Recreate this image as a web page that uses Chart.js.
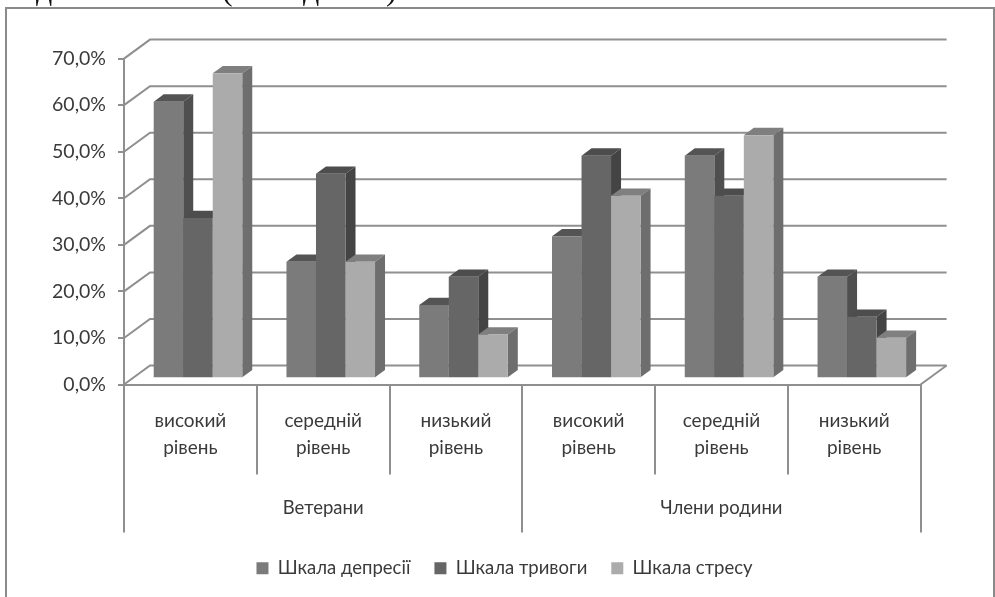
<!DOCTYPE html>
<html>
<head>
<meta charset="utf-8">
<title>Шкали депресії, тривоги та стресу</title>
<script src="https://cdn.jsdelivr.net/npm/chart.js@4"></script>
<style>
  html, body { margin: 0; padding: 0; background: #fff; overflow: hidden; }
  #wrap { position: relative; width: 995px; height: 597px; overflow: hidden; filter: blur(0.45px); }
  #frame { position: absolute; left: 5px; top: 7px; width: 990px; height: 600px; border: 2px solid #8a8a8a; box-sizing: border-box; }
  canvas { position: absolute; left: 0; top: 0; }
  .cut { position: absolute; top: -27px; font: 32px/32px "Liberation Serif", serif; color: #111; }
</style>
</head>
<body>
<div id="wrap">
  <span class="cut" style="left:36px">д</span>
  <span class="cut" style="left:222px">(</span>
  <span class="cut" style="left:303px">д</span>
  <span class="cut" style="left:386px">)</span>
  <div id="frame"></div>
  <canvas id="chart" width="995" height="597"></canvas>
</div>
<script>
// data
const levels = [
  ['високий', 'рівень'], ['середній', 'рівень'], ['низький', 'рівень'],
  ['високий', 'рівень'], ['середній', 'рівень'], ['низький', 'рівень']
];
const groups = ['Ветерани', 'Члени родини'];
const depression = [59.4, 25.0, 15.7, 30.5, 47.8, 21.8];
const anxiety = [34.4, 43.9, 21.8, 47.8, 39.2, 13.2];
const stress = [65.5, 25.0, 9.4, 39.2, 52.2, 8.7];

const textColor = '#3a3a3a';
const lineColor = '#8f8f8f';
const fontFamily = 'Lato, "Noto Sans", sans-serif';

// walls and 3d faces of the columns
const wallDx = 26, wallDy = 19;   // depth of the back wall
const barDx = 7.6, barDy = 6.3;   // where the columns stand on the floor
const sideDx = 10, sideDy = 7.3;  // depth of one column

const shade3d = {
  id: 'shade3d',
  beforeDatasetsDraw(chart) {
    const { ctx, chartArea: a, scales: { y } } = chart;
    ctx.save();
    ctx.strokeStyle = lineColor;
    ctx.lineWidth = 2;
    y.ticks.forEach(t => {
      const py = y.getPixelForValue(t.value);
      ctx.beginPath();
      ctx.moveTo(a.left, py);
      ctx.lineTo(a.left + wallDx, py - wallDy);
      ctx.lineTo(a.right + wallDx, py - wallDy);
      ctx.stroke();
    });
    const y0 = y.getPixelForValue(0);
    ctx.beginPath();
    ctx.moveTo(a.right, y0);
    ctx.lineTo(a.right + wallDx, y0 - wallDy);
    ctx.stroke();

    // columns go left to right so each one hides the side of the previous
    ctx.translate(barDx, -barDy);
    chart.data.datasets.forEach((ds, i) => {
      const meta = chart.getDatasetMeta(i);
      meta.data.forEach(bar => {
        const l = bar.x - bar.width / 2, r = bar.x + bar.width / 2;
        ctx.fillStyle = ds.topColor;
        ctx.beginPath();
        ctx.moveTo(l, bar.y);
        ctx.lineTo(l + sideDx, bar.y - sideDy);
        ctx.lineTo(r + sideDx, bar.y - sideDy);
        ctx.lineTo(r, bar.y);
        ctx.fill();
        ctx.fillStyle = ds.sideColor;
        ctx.beginPath();
        ctx.moveTo(r, bar.y);
        ctx.lineTo(r + sideDx, bar.y - sideDy);
        ctx.lineTo(r + sideDx, bar.base - sideDy);
        ctx.lineTo(r, bar.base);
        ctx.fill();
      });
      meta.controller.draw();
    });
    ctx.restore();
    return false;
  },
  afterLayout(chart) {
    // legend sits under the axis block, slightly right of canvas centre
    const lg = chart.legend;
    const shift = 504.5 - (lg.left + lg.right) / 2;
    lg.left += shift;
    lg.right += shift;
    const h = lg.bottom - lg.top;
    lg.top = 535;
    lg.bottom = lg.top + h;
  }
};

new Chart(document.getElementById('chart'), {
  type: 'bar',
  plugins: [shade3d],
  data: {
    labels: levels,
    datasets: [
      { label: 'Шкала депресії', data: depression, backgroundColor: '#7b7b7b', topColor: '#545454', sideColor: '#4f4f4f' },
      { label: 'Шкала тривоги', data: anxiety, backgroundColor: '#666666', topColor: '#4d4d4d', sideColor: '#444444' },
      { label: 'Шкала стресу', data: stress, backgroundColor: '#ababab', topColor: '#7f7f7f', sideColor: '#6e6e6e' }
    ]
  },
  options: {
    responsive: false,
    animation: false,
    devicePixelRatio: 1,
    categoryPercentage: 0.667,
    barPercentage: 1,
    layout: { padding: { left: 0, right: 74.4, top: 58.6, bottom: 12 } },
    plugins: {
      title: { display: false },
      tooltip: { enabled: false },
      legend: {
        position: 'bottom',
        labels: { boxWidth: 12, boxHeight: 12, padding: 24, color: textColor, font: { family: fontFamily, size: 18.5 } }
      }
    },
    scales: {
      x: {
        grid: { drawOnChartArea: false, color: lineColor, lineWidth: 2, tickLength: 90 },
        border: { color: lineColor, width: 2 },
        ticks: { autoSkip: false, maxRotation: 0, minRotation: 0, padding: -67, color: textColor, font: { family: fontFamily, size: 19, lineHeight: 1.4 } },
        afterFit(s) { s.height = 88; }
      },
      x2: {
        type: 'category',
        position: 'bottom',
        labels: groups,
        offset: true,
        grid: { offset: true, drawOnChartArea: false, color: lineColor, lineWidth: 2, tickLength: 60 },
        border: { display: false },
        ticks: { autoSkip: false, maxRotation: 0, padding: -36, color: textColor, font: { family: fontFamily, size: 18.5 } },
        afterFit(s) { s.height = 60; }
      },
      y: {
        min: 0,
        max: 70,
        grid: { drawOnChartArea: false, color: lineColor, lineWidth: 2, tickLength: 6 },
        border: { color: lineColor, width: 2 },
        ticks: { stepSize: 10, padding: 12, color: textColor, font: { family: fontFamily, size: 19.5 }, callback: v => v.toFixed(1).replace('.', ',') + '%' },
        afterFit(s) { s.width = 124; }
      }
    }
  }
});
</script>
</body>
</html>
